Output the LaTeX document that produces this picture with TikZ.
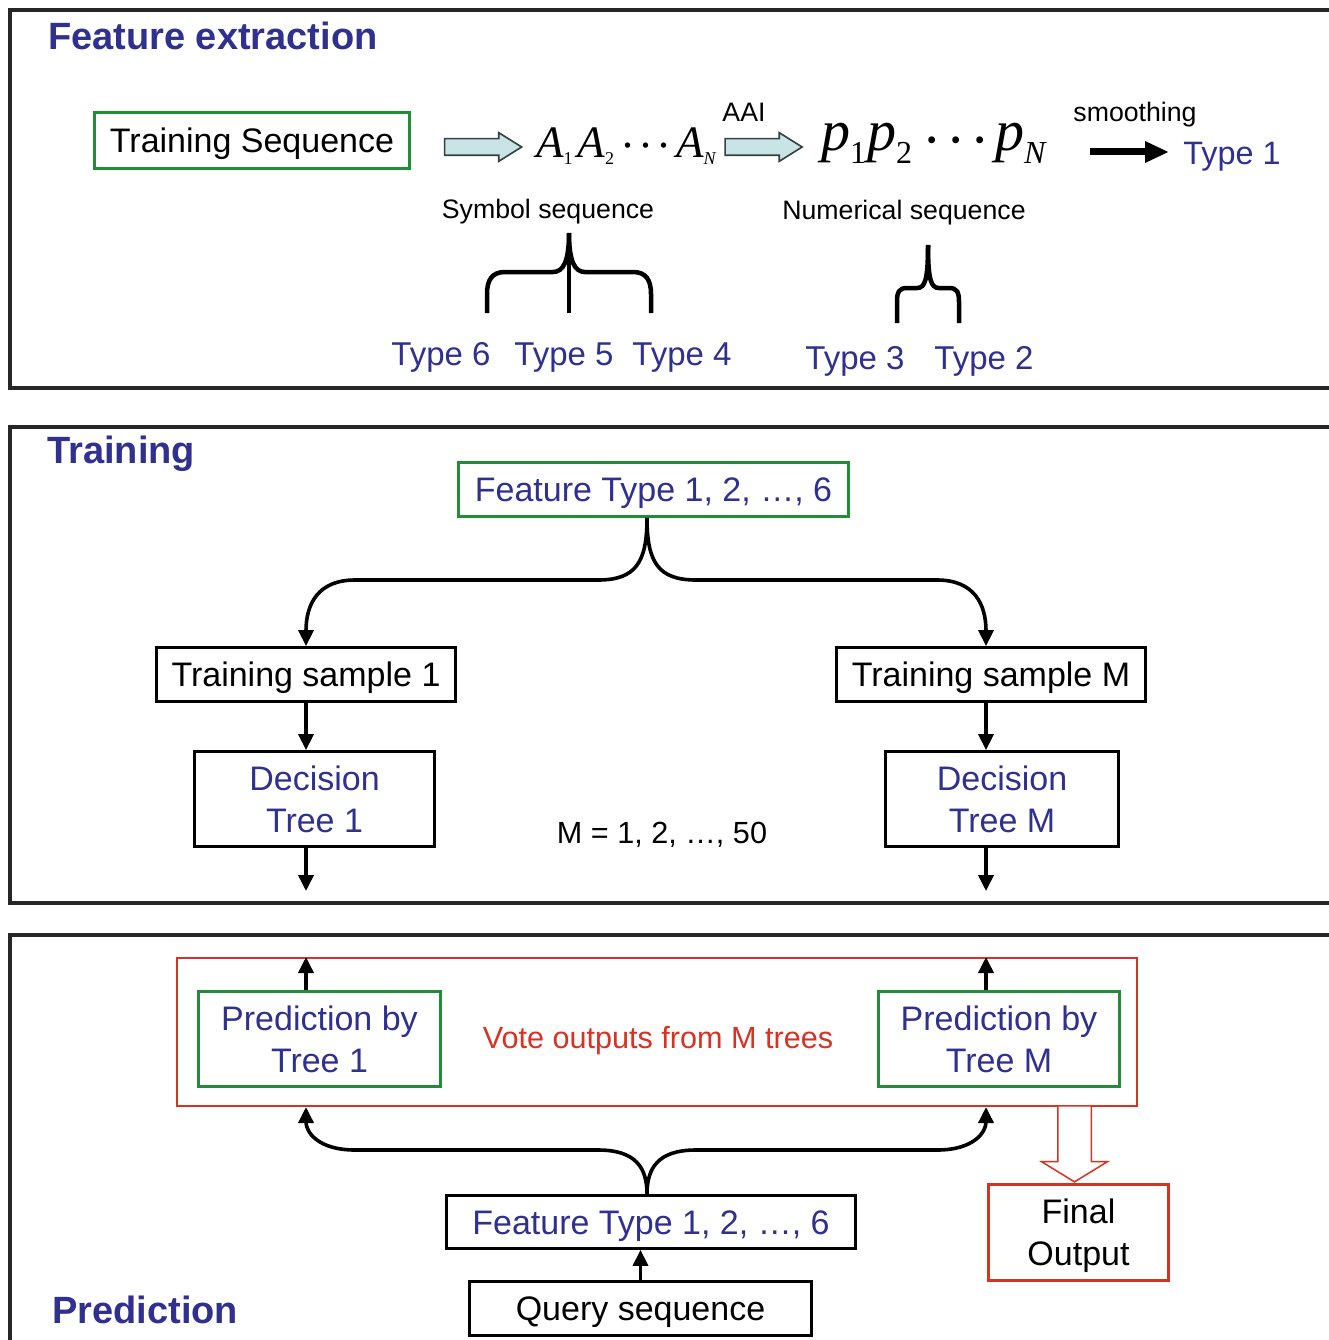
\documentclass[tikz,border=0pt]{standalone}
\usepackage{fontspec}
\setmainfont{Liberation Sans}
\newfontfamily\tms{Liberation Serif}
\usetikzlibrary{arrows.meta,shapes.arrows,calc}
\definecolor{tblue}{RGB}{48,48,145}
\definecolor{tgreen}{RGB}{35,140,55}
\definecolor{tred}{RGB}{215,50,35}
\definecolor{tcyan}{RGB}{200,228,228}
\definecolor{tdark}{RGB}{50,65,65}
\newcommand{\fs}[2]{\fontsize{#1}{#2}\selectfont}
\newcommand{\sbA}[1]{\raisebox{-7pt}{\fs{18}{18}#1}}
\newcommand{\sbP}[1]{\raisebox{-13pt}{\fs{32}{32}#1}}
\newcommand{\dotA}{\makebox[18pt]{\raisebox{-3pt}{\upshape ·}}}
\newcommand{\dotP}{\makebox[24pt]{\raisebox{-9pt}{\upshape ·}}}
\newcommand{\Aseq}{{\tms\fs{45}{45}\itshape A\sbA{\upshape 1}\hspace{5pt}A\sbA{\upshape 2}\hspace{5pt}\dotA\dotA\dotA\hspace{3pt}A\sbA{N}}}
\newcommand{\Pseq}{{\tms\fs{58}{58}\itshape p\sbP{\upshape 1}\hspace{1pt}p\sbP{\upshape 2}\hspace{8pt}\dotP\dotP\dotP\hspace{3pt}p\sbP{N}}}
\begin{document}
\begin{tikzpicture}[x=1pt,y=-1pt,
  panel/.style={line width=3.2pt, draw=black!85},
  hdr/.style={font=\fs{38}{44}\bfseries, text=tblue, anchor=base west, inner sep=0},
  box/.style={draw=black, line width=2.8pt, inner sep=0, font=\fs{34}{42}, align=center},
  gbox/.style={box, draw=tgreen},
  one/.style={text height=24.5pt, text depth=0pt},
  lbl/.style={inner sep=0, anchor=base},
  small/.style={lbl, font=\fs{26.7}{32}},
  typ/.style={lbl, font=\fs{33}{40}, text=tblue},
  conn/.style={line width=3.6pt, -{Triangle[length=16pt,width=15pt]}},
  brc/.style={line width=4.5pt},
  carrow/.style={single arrow, draw=tdark, fill=tcyan, line width=1.6pt, minimum height=77pt, minimum width=0pt, inner xsep=0pt, inner ysep=7.5pt, single arrow head extend=6pt, single arrow tip angle=64, single arrow head indent=0pt},
  harrow/.style={single arrow, draw=tred, fill=white, line width=1.5pt, minimum height=76pt, minimum width=0pt, inner xsep=0pt, inner ysep=16pt, single arrow head extend=16.5pt, single arrow tip angle=117, single arrow head indent=0pt, rotate=-90},
]
\useasboundingbox (0,0) rectangle (1328,1340);
\fill[white] (0,0) rectangle (1328,1340);

% panels
\draw[panel] (1332,10) -- (10,10) -- (10,388) -- (1332,388);
\draw[panel] (1332,427) -- (10,427) -- (10,903) -- (1332,903);
\draw[panel] (1332,935) -- (10,935) -- (10,1342);

% headers
\node[hdr] (hfe) at (48,50) {Feature extraction};
\node[hdr] (htr) at (47,463) {Training};
\node[hdr] (hpr) at (52,1323) {Prediction};

% ---------- feature extraction ----------
\node[gbox, one, minimum width=315pt, minimum height=56pt] (tseq) at (252,140.5) {Training Sequence};
\node[carrow] (ar1) at (476.5,147) {};
\node[inner sep=0, anchor=base west] (aseq) at (536,158) {\Aseq};
\node[carrow] (ar2) at (757,147) {};
\node[small] (aai) at (744,122) {AAI};
\node[inner sep=0, anchor=base west] (pseq) at (821,151) {\Pseq};
\node[small] (smo) at (1135,122) {smoothing};
\coordinate (sm1) at (1090,152);
\coordinate (sm2) at (1169,152);
\draw[line width=7pt, -{Triangle[length=24pt,width=20pt]}] (sm1) -- (sm2);
\node[lbl, font=\fs{32.4}{40}, text=tblue] (t1) at (1232,165) {Type 1};
\node[small] (symseq) at (548,219) {Symbol sequence};
\node[small] (numseq) at (904,220) {Numerical sequence};

% brace 1
\draw[brc] (487,313) -- (487,294) .. controls (487,280) and (492,272) .. (505,272) -- (553,272) .. controls (563,272) and (569,262) .. (569,233);
\draw[brc] (651,313) -- (651,294) .. controls (651,280) and (646,272) .. (633,272) -- (585,272) .. controls (575,272) and (569,262) .. (569,233);
\draw[brc] (569,233) -- (569,313);
% brace 2
\draw[brc] (897,323) -- (897,302) .. controls (897,292) and (899,288) .. (907,288) -- (917,288) .. controls (925,288) and (928,280) .. (928,245);
\draw[brc] (959,323) -- (959,302) .. controls (959,292) and (957,288) .. (949,288) -- (939,288) .. controls (931,288) and (928,280) .. (928,245);

\node[typ] (ty6) at (441,365) {Type 6};
\node[typ] (ty5) at (564,365) {Type 5};
\node[typ] (ty4) at (682,365) {Type 4};
\node[typ] (ty3) at (855,369) {Type 3};
\node[typ] (ty2) at (984,369) {Type 2};

% ---------- training ----------
\coordinate (cL) at (306,0);
\coordinate (cR) at (986,0);
\coordinate (ctip) at (647,0);
\node[gbox, one, text=tblue, minimum width=390pt, minimum height=54pt] (fts) at (653.5,489.5) {Feature Type 1, 2, \ldots, 6};
\node[box, one, minimum width=299pt, minimum height=54pt] (ts1) at (306,674.5) {Training sample 1};
\node[box, one, minimum width=309pt, minimum height=54pt] (tsM) at (991,674.5) {Training sample M};
\node[box, text=tblue, minimum width=240pt, minimum height=95pt] (dt1) at (314.5,799) {Decision\\Tree 1};
\node[box, text=tblue, minimum width=233pt, minimum height=95pt] (dtM) at (1002,799) {Decision\\Tree M};
\node[lbl, font=\fs{30.6}{36}] (mlab) at (662,843) {M = 1, 2, \ldots, 50};

\draw[conn] (ctip |- fts.south) .. controls (647,562) and (636,580) .. (598,580) -- (355,580) .. controls (318,580) and (306,604) .. (cL |- ts1.north);
\draw[conn] (ctip |- fts.south) .. controls (647,562) and (658,580) .. (696,580) -- (937,580) .. controls (974,580) and (986,604) .. (cR |- tsM.north);
\draw[conn] (cL |- ts1.south) -- (cL |- dt1.north);
\draw[conn] (cR |- tsM.south) -- (cR |- dtM.north);
\coordinate (oL) at (306,891);
\coordinate (oR) at (986,891);
\draw[conn] (cL |- dt1.south) -- (oL);
\draw[conn] (cR |- dtM.south) -- (oR);

% ---------- prediction ----------
\node[draw=tred, line width=2pt, minimum width=960pt, minimum height=148pt, inner sep=0] (vote) at (657,1032) {};
\node[gbox, text=tblue, minimum width=242pt, minimum height=95pt] (pr1) at (319.5,1039) {Prediction by\\Tree 1};
\node[gbox, text=tblue, minimum width=241pt, minimum height=95pt] (prM) at (999,1039) {Prediction by\\Tree M};
\node[lbl, font=\fs{30.6}{36}, text=tred] (vlab) at (658,1048) {Vote outputs from M trees};
\node[box, one, text=tblue, minimum width=409pt, minimum height=53pt] (ftp) at (651,1222) {Feature Type 1, 2, \ldots, 6};
\node[box, one, minimum width=342pt, minimum height=54pt] (query) at (640.5,1308.5) {Query sequence};
\node[box, draw=tred, line width=3.5pt, text depth=0pt, minimum width=180pt, minimum height=96pt] (final) at (1078.5,1232.5) {Final\\Output};
\node[harrow, anchor=tip] (harr) at ($(final.north)+(-4,0)$) {};

\draw[conn] (cL |- pr1.north) -- (cL |- vote.north);
\draw[conn] (cR |- prM.north) -- (cR |- vote.north);
\draw[conn] (ctip |- ftp.north) .. controls (647,1168) and (636,1150) .. (598,1150) -- (355,1150) .. controls (318,1150) and (306,1132) .. (cL |- vote.south);
\draw[conn] (ctip |- ftp.north) .. controls (647,1168) and (658,1150) .. (696,1150) -- (937,1150) .. controls (974,1150) and (986,1132) .. (cR |- vote.south);
\draw[conn] (query.north) -- (query.north |- ftp.south);
\end{tikzpicture}
\end{document}
